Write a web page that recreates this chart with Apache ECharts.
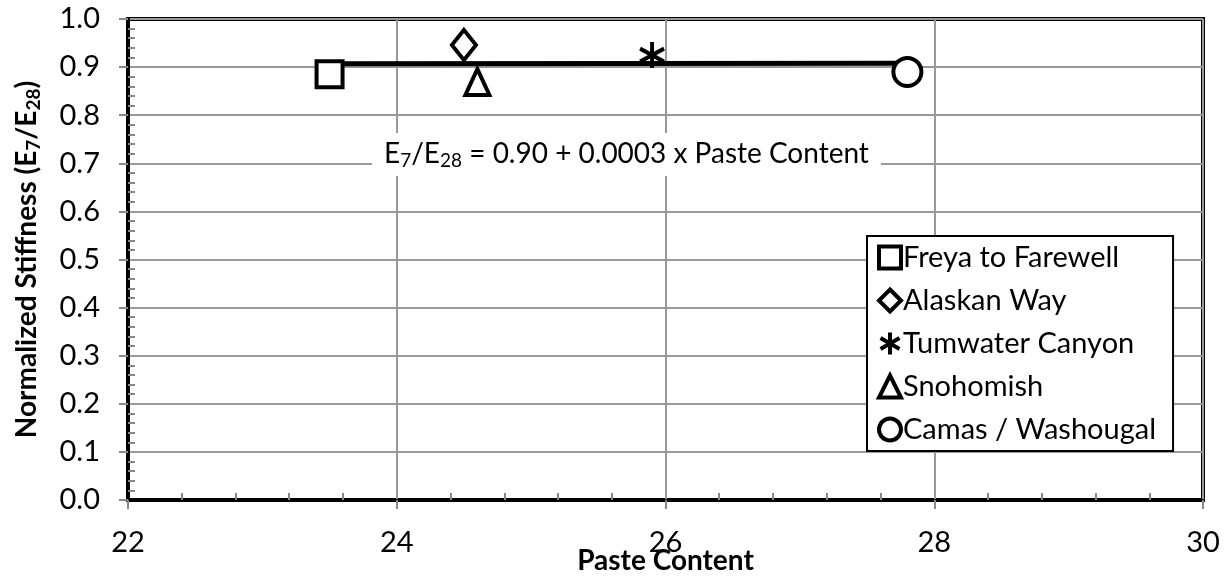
<!DOCTYPE html>
<html>
<head>
<meta charset="utf-8">
<script src="https://cdn.jsdelivr.net/npm/echarts@6/dist/echarts.min.js"></script>
<style>
  html, body { margin: 0; padding: 0; background: #fff; }
  #main { width: 1229px; height: 577px; }
</style>
</head>
<body>
<div id="main"></div>
<script>
// data
var projects = ["Freya to Farewell", "Alaskan Way", "Tumwater Canyon", "Snohomish", "Camas / Washougal"];
var pasteContent = [23.5, 24.5, 25.9, 24.6, 27.8];
var stiffness = [0.885, 0.946, 0.925, 0.869, 0.89];
var trendX = [23.5, 27.8];
var trendY = [0.907, 0.908];

var symbols = [
  "rect",
  "diamond",
  "path://M5,0L5,10M0.7,2.5L9.3,7.5M9.3,2.5L0.7,7.5",
  "triangle",
  "circle"
];
var symbolSizes = [[26, 26], [24, 30], [24, 26], [24, 26], [28, 28]];

var font = "Lato";
var myChart = echarts.init(document.getElementById("main"));

var series = projects.map(function(name, i) {
  return {
    name: name,
    type: "scatter",
    symbol: symbols[i],
    symbolSize: symbolSizes[i],
    data: [[pasteContent[i], stiffness[i]]],
    itemStyle: { color: "#fff", borderColor: "#000", borderWidth: 4, opacity: 1 },
    z: 3
  };
});
series.push({
  name: "trend",
  type: "line",
  data: trendX.map(function(x, i) { return [x, trendY[i]]; }),
  symbol: "none",
  lineStyle: { color: "#000", width: 5 },
  z: 2
});

var option = {
  animation: false,
  grid: {
    left: 128, right: 26, top: 19, bottom: 77,
    containLabel: false,
    outerBoundsMode: "none",
    show: true, borderColor: "#000", borderWidth: 4
  },
  legend: {
    orient: "vertical",
    left: 867,
    top: 236,
    data: projects,
    itemWidth: 22,
    itemHeight: 22,
    itemGap: 12,
    padding: [6, 17, 6, 10],
    borderColor: "#000",
    borderWidth: 2,
    backgroundColor: "#fff",
    selectedMode: false,
    textStyle: { color: "#000", fontSize: 29, lineHeight: 31, fontFamily: font, padding: [0, 0, 0, -3] },
    itemStyle: { borderWidth: 4 }
  },
  xAxis: [
    {
      type: "value",
      min: 22, max: 30, interval: 2,
      name: "Paste Content",
      nameLocation: "middle",
      nameGap: 47,
      nameMoveOverlap: false,
      nameTextStyle: { color: "#000", fontSize: 28, fontWeight: "bold", fontFamily: font },
      axisLine: { onZero: false, lineStyle: { color: "#000", width: 3 } },
      axisTick: { show: true, inside: false, length: 9, lineStyle: { color: "#888", width: 2 } },
      axisLabel: { color: "#000", fontSize: 29, fontFamily: font, margin: 28 },
      splitLine: { show: true, lineStyle: { color: "#999", width: 2 } }
    },
    {
      type: "value",
      min: 22, max: 30, interval: 2,
      position: "bottom",
      axisLine: { show: false },
      axisLabel: { show: false },
      axisTick: { show: false, inside: true },
      minorTick: { show: true, splitNumber: 5, length: 7, lineStyle: { color: "#888", width: 2 } },
      splitLine: { show: false }
    }
  ],
  yAxis: [
    {
      type: "value",
      min: 0, max: 1, interval: 0.1,
      name: "{b|Normalized Stiffness (E}{s|7}{b|/E}{s|28}{b|)}",
      nameLocation: "middle",
      nameGap: 85,
      nameMoveOverlap: false,
      nameTextStyle: {
        rich: {
          b: { fontSize: 28, fontWeight: "bold", fontFamily: font, color: "#000" },
          s: { fontSize: 19, fontWeight: "bold", fontFamily: font, color: "#000", padding: [13, 0, 0, 0] }
        }
      },
      axisLine: { onZero: false, lineStyle: { color: "#000", width: 3 } },
      axisTick: { show: true, inside: false, length: 9, lineStyle: { color: "#888", width: 2 } },
      axisLabel: {
        color: "#000", fontSize: 29, fontFamily: font, margin: 28,
        formatter: function(v) { return v.toFixed(1); }
      },
      splitLine: { show: true, lineStyle: { color: "#999", width: 2 } }
    },
    {
      type: "value",
      min: 0, max: 1, interval: 0.1,
      position: "left",
      offset: 0,
      axisLine: { show: false },
      axisLabel: { show: false },
      axisTick: { show: false, inside: true },
      minorTick: { show: true, splitNumber: 5, length: 7, lineStyle: { color: "#888", width: 2 } },
      splitLine: { show: false }
    }
  ],
  graphic: [
    {
      type: "text",
      left: 372,
      top: 133,
      z: 10,
      style: {
        text: "{t|E}{s|7}{t|/E}{s|28}{t| = 0.90 + 0.0003 x Paste Content}",
        backgroundColor: "#fff",
        padding: [4, 12, 6, 12],
        rich: {
          t: { fontSize: 28, fontFamily: font, fill: "#000" },
          s: { fontSize: 19, fontFamily: font, fill: "#000", padding: [14, 0, 0, 0] }
        }
      }
    }
  ],
  series: series
};
myChart.setOption(option);
</script>
</body>
</html>
